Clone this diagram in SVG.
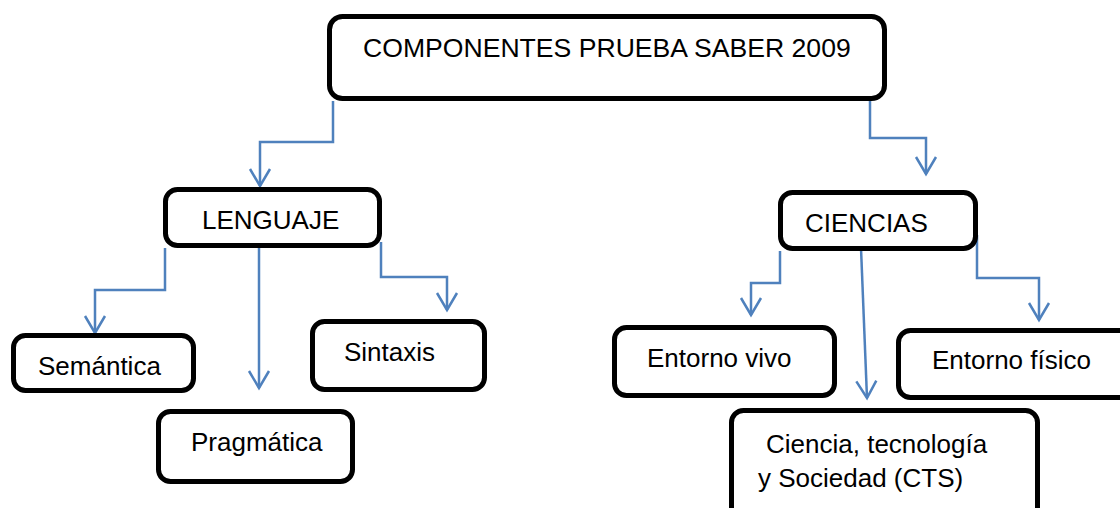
<svg xmlns="http://www.w3.org/2000/svg" width="1120" height="508" viewBox="0 0 1120 508">
  <style>
    .box { fill: #ffffff; stroke: #000000; stroke-width: 5; }
    .lbl { font-family: "Liberation Sans", Arial, sans-serif; font-size: 26px; fill: #000000; }
    .con { fill: none; stroke: #4f81bd; stroke-width: 2.5; }
  </style>
  <defs>
    <marker id="arr" markerUnits="userSpaceOnUse" markerWidth="24" markerHeight="24" refX="0" refY="0" orient="auto" overflow="visible">
      <path d="M-17,-10 L0,0 L-17,10" fill="none" stroke="#4f81bd" stroke-width="2.5"/>
    </marker>
  </defs>
  <rect width="1120" height="508" fill="#ffffff"/>
  <g id="connectors">
    <path class="con" d="M333,101 V142 H260 V186" marker-end="url(#arr)"/>
    <path class="con" d="M870,101 V138 H926 V174" marker-end="url(#arr)"/>
    <path class="con" d="M165,248 V290 H95 V333" marker-end="url(#arr)"/>
    <path class="con" d="M259,244 V388" marker-end="url(#arr)"/>
    <path class="con" d="M381,242 V277 H447 V310" marker-end="url(#arr)"/>
    <path class="con" d="M780,251 V283 H751 V315" marker-end="url(#arr)"/>
    <path class="con" d="M861,248 L867,398" marker-end="url(#arr)"/>
    <path class="con" d="M977,235 V278 H1039 V320" marker-end="url(#arr)"/>
  </g>
  <g id="node-componentes">
    <rect class="box" x="329.5" y="16.5" width="555" height="82" rx="13"/>
    <text class="lbl" x="363" y="57" style="font-size:26.6px">COMPONENTES PRUEBA SABER 2009</text>
  </g>
  <g id="node-lenguaje">
    <rect class="box" x="165.5" y="189.5" width="214" height="56" rx="12"/>
    <text class="lbl" x="202" y="229">LENGUAJE</text>
  </g>
  <g id="node-semantica">
    <rect class="box" x="13.5" y="335.5" width="180" height="55" rx="12"/>
    <text class="lbl" x="38" y="375">Semántica</text>
  </g>
  <g id="node-pragmatica">
    <rect class="box" x="158.5" y="411.5" width="194" height="70" rx="12"/>
    <text class="lbl" x="191" y="451">Pragmática</text>
  </g>
  <g id="node-sintaxis">
    <rect class="box" x="312.5" y="321.5" width="172" height="68" rx="12"/>
    <text class="lbl" x="344" y="361">Sintaxis</text>
  </g>
  <g id="node-ciencias">
    <rect class="box" x="780.5" y="192.5" width="195" height="56" rx="12"/>
    <text class="lbl" x="805" y="232">CIENCIAS</text>
  </g>
  <g id="node-entorno-vivo">
    <rect class="box" x="614.5" y="327.5" width="220" height="68" rx="12"/>
    <text class="lbl" x="647" y="367">Entorno vivo</text>
  </g>
  <g id="node-entorno-fisico">
    <rect class="box" x="898.5" y="330.5" width="240" height="67" rx="12"/>
    <text class="lbl" x="932" y="369">Entorno físico</text>
  </g>
  <g id="node-cts">
    <rect class="box" x="731.5" y="410.5" width="306" height="110" rx="12"/>
    <text class="lbl" x="766" y="453">Ciencia, tecnología</text>
    <text class="lbl" x="758" y="487">y Sociedad (CTS)</text>
  </g>
</svg>
